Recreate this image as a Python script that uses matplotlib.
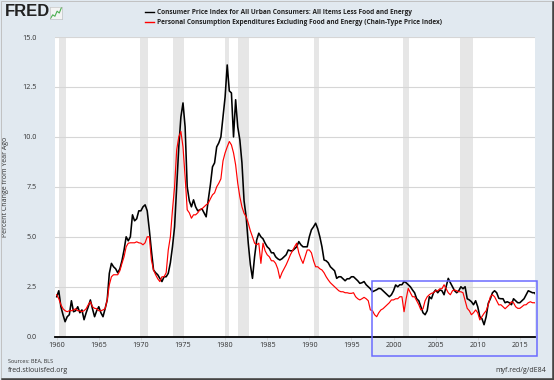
import matplotlib
matplotlib.use('Agg')
import matplotlib.pyplot as plt
from matplotlib.patches import Rectangle
from matplotlib.lines import Line2D
import numpy as np

plt.rcParams['font.family'] = ['Open Sans', 'DejaVu Sans']

BG = '#E1E9F0'
TXT = '#333333'

# quarterly observations, 1960Q1 .. 2016Q4, plus one last point
years = list(np.arange(1960, 2017, 0.25)) + [2016.9]

cpi_core = [
    2.0, 2.3, 1.5, 1.1,     # 1960
    0.75, 1.0, 1.1, 1.8,    # 1961
    1.25, 1.3, 1.5, 1.2,    # 1962
    1.34, 0.85, 1.2, 1.5,   # 1963
    1.84, 1.4, 1.0, 1.3,    # 1964
    1.5, 1.2, 1.0, 1.4,     # 1965
    1.84, 3.17, 3.67, 3.5,  # 1966
    3.4, 3.2, 3.4, 3.8,     # 1967
    4.34, 5.0, 4.8, 5.0,    # 1968
    6.1, 5.8, 5.9, 6.3,     # 1969
    6.3, 6.5, 6.6, 6.3,     # 1970
    5.35, 4.3, 3.34, 3.2,   # 1971
    3.1, 2.92, 2.76, 3.0,   # 1972
    3.0, 3.17, 3.7, 4.5,    # 1973
    5.5, 7.5, 9.5, 11.0,    # 1974
    11.7, 10.5, 7.5, 6.8,   # 1975
    6.5, 6.85, 6.5, 6.3,    # 1976
    6.35, 6.4, 6.2, 6.0,    # 1977
    6.85, 7.6, 8.5, 8.7,    # 1978
    9.5, 9.7, 10.0, 11.0,   # 1979
    12.0, 13.6, 12.3, 12.2, # 1980
    10.0, 11.86, 10.5, 9.85,  # 1981
    8.7, 6.8, 6.0, 4.68,    # 1982
    3.6, 2.92, 4.0, 4.84,   # 1983
    5.18, 5.0, 4.9, 4.68,   # 1984
    4.5, 4.4, 4.2, 4.2,     # 1985
    4.0, 3.9, 3.84, 3.9,    # 1986
    4.0, 4.1, 4.34, 4.3,    # 1987
    4.3, 4.4, 4.5, 4.76,    # 1988
    4.6, 4.5, 4.5, 4.5,     # 1989
    5.0, 5.35, 5.5, 5.68,   # 1990
    5.4, 5.0, 4.5, 3.84,    # 1991
    3.8, 3.7, 3.5, 3.4,     # 1992
    3.3, 2.92, 3.0, 3.0,    # 1993
    2.9, 2.8, 2.9, 2.9,     # 1994
    3.0, 3.0, 2.9, 2.8,     # 1995
    2.67, 2.7, 2.76, 2.6,   # 1996
    2.5, 2.4, 2.25, 2.3,    # 1997
    2.35, 2.42, 2.4, 2.3,   # 1998
    2.2, 2.1, 2.0, 2.1,     # 1999
    2.3, 2.59, 2.5, 2.6,    # 2000
    2.6, 2.76, 2.7, 2.6,    # 2001
    2.5, 2.34, 2.2, 1.9,    # 2002
    1.8, 1.5, 1.2, 1.1,     # 2003
    1.3, 2.0, 1.9, 2.2,     # 2004
    2.34, 2.2, 2.34, 2.3,   # 2005
    2.1, 2.5, 2.92, 2.7,    # 2006
    2.5, 2.3, 2.2, 2.3,     # 2007
    2.5, 2.4, 2.5, 1.9,     # 2008
    1.84, 1.75, 1.6, 1.8,   # 2009
    1.5, 1.0, 0.9, 0.6,     # 2010
    1.0, 1.67, 1.9, 2.2,    # 2011
    2.3, 2.2, 1.92, 1.9,    # 2012
    1.9, 1.7, 1.75, 1.7,    # 2013
    1.6, 1.9, 1.8, 1.7,     # 2014
    1.7, 1.8, 1.9, 2.1,     # 2015
    2.3, 2.25, 2.2, 2.2,    # 2016
    2.1,
]

pce_core = [
    2.1, 1.9, 1.6, 1.4,     # 1960
    1.3, 1.25, 1.3, 1.3,    # 1961
    1.34, 1.4, 1.3, 1.3,    # 1962
    1.25, 1.3, 1.4, 1.6,    # 1963
    1.75, 1.5, 1.42, 1.4,   # 1964
    1.3, 1.3, 1.34, 1.4,    # 1965
    1.84, 2.6, 3.0, 3.1,    # 1966
    3.1, 3.1, 3.3, 3.67,    # 1967
    4.0, 4.5, 4.68, 4.7,    # 1968
    4.7, 4.7, 4.75, 4.7,    # 1969
    4.68, 4.6, 4.7, 5.0,    # 1970
    5.0, 3.84, 3.34, 3.1,   # 1971
    2.9, 2.76, 3.0, 3.0,    # 1972
    3.2, 4.34, 5.0, 6.35,   # 1973
    7.5, 9.35, 10.0, 10.27, # 1974
    9.5, 8.0, 6.35, 6.2,    # 1975
    5.93, 6.1, 6.1, 6.2,    # 1976
    6.35, 6.4, 6.5, 6.6,    # 1977
    6.68, 6.9, 7.1, 7.2,    # 1978
    7.5, 7.68, 7.9, 8.8,    # 1979
    9.2, 9.5, 9.77, 9.6,    # 1980
    9.2, 8.6, 7.68, 7.0,    # 1981
    6.5, 6.18, 6.0, 5.68,   # 1982
    5.3, 5.0, 4.68, 4.6,    # 1983
    4.68, 3.67, 4.68, 4.3,  # 1984
    4.1, 4.0, 3.8, 3.8,     # 1985
    3.67, 3.4, 2.92, 3.2,   # 1986
    3.4, 3.6, 3.84, 4.1,    # 1987
    4.3, 4.5, 4.68, 4.2,    # 1988
    3.9, 3.67, 4.0, 4.34,   # 1989
    4.34, 4.2, 3.8, 3.5,    # 1990
    3.5, 3.4, 3.34, 3.2,    # 1991
    3.0, 2.84, 2.7, 2.6,    # 1992
    2.5, 2.4, 2.3, 2.25,    # 1993
    2.25, 2.2, 2.2, 2.17,   # 1994
    2.17, 2.2, 2.0, 1.9,    # 1995
    1.84, 1.9, 1.97, 1.9,   # 1996
    1.8, 1.34, 1.3, 1.1,    # 1997
    1.0, 1.2, 1.34, 1.4,    # 1998
    1.5, 1.6, 1.7, 1.84,    # 1999
    1.84, 1.9, 1.9, 2.0,    # 2000
    2.0, 1.25, 1.9, 2.42,   # 2001
    2.2, 2.0, 2.0, 1.8,     # 2002
    1.6, 1.34, 1.4, 1.8,    # 2003
    2.0, 2.1, 2.17, 2.2,    # 2004
    2.3, 2.3, 2.4, 2.4,     # 2005
    2.6, 2.4, 2.2, 2.1,     # 2006
    2.3, 2.34, 2.3, 2.25,   # 2007
    2.25, 2.2, 1.8, 1.42,   # 2008
    1.3, 1.1, 1.2, 1.34,    # 2009
    1.2, 0.84, 1.0, 1.17,   # 2010
    1.3, 1.6, 2.0, 2.1,     # 2011
    2.0, 1.8, 1.59, 1.6,    # 2012
    1.5, 1.4, 1.5, 1.6,     # 2013
    1.75, 1.7, 1.5, 1.42,   # 2014
    1.42, 1.5, 1.59, 1.6,   # 2015
    1.7, 1.75, 1.7, 1.7,    # 2016
    1.67,
]

# NBER recessions (start, end)
recessions = [(1960.25, 1961.08), (1969.92, 1970.83), (1973.83, 1975.17),
              (1980.0, 1980.5), (1981.5, 1982.83), (1990.5, 1991.17),
              (2001.17, 2001.83), (2007.92, 2009.42)]

yticks = [0.0, 2.5, 5.0, 7.5, 10.0, 12.5, 15.0]
xticks = [1960, 1965, 1970, 1975, 1980, 1985, 1990, 1995, 2000, 2005, 2010, 2015]

labels = ['Consumer Price Index for All Urban Consumers: All Items Less Food and Energy',
          'Personal Consumption Expenditures Excluding Food and Energy (Chain-Type Price Index)']

# little FRED icon line
icon_y = [1, 2, 1.6, 3, 2.5, 4]

fig = plt.figure(figsize=(5.54, 3.80), dpi=100)
fig.patch.set_facecolor(BG)

ax = fig.add_axes([55 / 554, 1 - 336.7 / 380, 480 / 554, (336.7 - 37) / 380])
ax.set_facecolor('white')
for a, b in recessions:
    ax.axvspan(a, b, color='#E6E6E6', lw=0, zorder=0)
ax.set_yticks(yticks)
ax.grid(axis='y', color='#D6D6D6', lw=0.8, zorder=0.5)
ax.plot(years, cpi_core, color='black', lw=1.15, zorder=2)
ax.plot(years, pce_core, color='#FF0000', lw=0.85, zorder=3)
ax.set_xlim(1959.8, 2016.8)
ax.set_ylim(0, 15)
ax.set_xticks(xticks)
for s in ['top', 'right', 'left']:
    ax.spines[s].set_visible(False)
ax.spines['bottom'].set_color('black')
ax.spines['bottom'].set_linewidth(1.3)
ax.tick_params(axis='y', length=0, pad=13, labelsize=5.2, labelcolor=TXT)
ax.tick_params(axis='x', length=2, width=0.5, color='#CCCCCC', pad=2,
               labelsize=5.2, labelcolor=TXT)
ax.set_yticklabels(['{:.1f}'.format(v) for v in yticks])
ax.set_ylabel('Percent Change from Year Ago', fontsize=5, color=TXT, labelpad=10)

# blue highlight box
ax.add_patch(Rectangle((1997.4, -0.97), 2017.04 - 1997.4, 2.79 + 0.97,
                       fill=False, edgecolor='#6B6BFF', lw=1.1, clip_on=False, zorder=5))

# legend
for i, (lab, c) in enumerate(zip(labels, ['black', '#FF0000'])):
    yy = 1 - (12 + 10 * i) / 380
    fig.add_artist(Line2D([145 / 554, 154 / 554], [yy, yy], color=c, lw=1.0))
    fig.text(157 / 554, yy, lab, fontsize=4.7, color='#222222', va='center', ha='left',
             fontweight='bold')

# FRED logo
fig.text(5 / 554, 1 - 12 / 380, 'FRED', fontsize=12, fontweight='heavy',
         family=['Liberation Sans', 'DejaVu Sans'], color='#222222', va='center')
iax = fig.add_axes([50 / 554, 1 - 19 / 380, 12 / 554, 12 / 380])
iax.plot(icon_y, color='#4CAF50', lw=0.8)
iax.set_xticks([])
iax.set_yticks([])
iax.set_facecolor('#F4F4F4')
for s in iax.spines.values():
    s.set_color('#BBBBBB')
    s.set_linewidth(0.4)

# footer
fig.text(8 / 554, 1 - 361 / 380, 'Sources: BEA, BLS', fontsize=4, color=TXT, va='center')
fig.text(8 / 554, 1 - 371 / 380, 'fred.stlouisfed.org', fontsize=5, color=TXT, va='center')
fig.text(546 / 554, 1 - 371 / 380, 'myf.red/g/dE84', fontsize=5, color=TXT,
         va='center', ha='right')

# frame with shadow
fig.add_artist(Rectangle((0.002, 0.004), 0.994, 0.994, transform=fig.transFigure,
                         fill=False, edgecolor='#BBBBBB', lw=0.6))
fig.add_artist(Line2D([0.004, 0.998], [0.003, 0.003], color='#444444', lw=1.8))
fig.add_artist(Line2D([0.998, 0.998], [0.003, 0.996], color='#444444', lw=1.8))

fig.savefig('out.png', dpi=100, facecolor=BG)
